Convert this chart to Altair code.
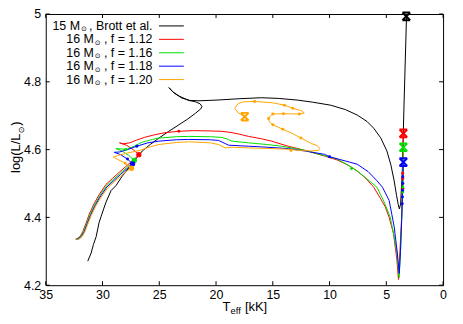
import altair as alt
import pandas as pd

# ---------------- data ----------------
series_names = ["15 Msun, Brott et al.", "16 Msun, f = 1.12", "16 Msun, f = 1.16",
                "16 Msun, f = 1.18", "16 Msun, f = 1.20"]
series_colors = ["#000000", "#ff0000", "#00e000", "#0000ff", "#ffa500"]

brott_T = [31.3, 31.0, 30.8, 30.56, 30.3, 30.13, 29.9, 29.69, 29.25, 28.81, 28.3, 27.65, 27.0,
           26.49, 25.8, 25.03, 24.2, 23.28, 22.5, 21.82, 21.35, 21.24, 21.4, 21.8, 22.4, 23.2,
           23.8, 24.15, 23.7, 23.0, 22.3, 21.5, 20.0, 18.0, 16.0, 14.5, 12.8, 11.5, 9.9, 8.6,
           7.57, 6.7, 6.11, 5.5, 4.95, 4.6, 4.31, 4.1, 3.95, 3.85, 3.74, 3.6, 3.45, 3.22]
brott_L = [4.271, 4.295, 4.32, 4.343, 4.385, 4.402, 4.425, 4.445, 4.479, 4.494, 4.52, 4.547, 4.575,
           4.596, 4.615, 4.634, 4.653, 4.673, 4.69, 4.707, 4.72, 4.727, 4.735, 4.741, 4.745, 4.757,
           4.77, 4.783, 4.767, 4.752, 4.745, 4.744, 4.746, 4.75, 4.753, 4.751, 4.746, 4.74, 4.731,
           4.718, 4.702, 4.683, 4.663, 4.635, 4.596, 4.555, 4.508, 4.465, 4.438, 4.425, 4.44,
           4.53, 4.72, 4.993]

red_T = [32.38, 32.2, 31.95, 31.74, 31.45, 31.16, 30.75, 30.28, 29.7, 29.12, 28.5, 27.95, 27.4,
         27.0, 26.8, 27.3, 27.9, 28.5, 28.2, 27.6, 27.0, 26.3, 25.5, 24.5, 23.28, 22.0, 20.5,
         19.49, 18.6, 18.0, 17.15, 16.0, 15.11, 13.65, 12.19, 10.44, 9.28, 8.3, 7.57, 6.8, 6.11,
         5.5, 5.09, 4.75, 4.37, 4.2, 4.07, 3.93, 3.8, 3.65, 3.55, 3.5]
red_L = [4.336, 4.338, 4.345, 4.358, 4.383, 4.41, 4.44, 4.468, 4.497, 4.515, 4.534, 4.55, 4.566,
         4.578, 4.585, 4.6, 4.613, 4.62, 4.617, 4.62, 4.628, 4.636, 4.643, 4.65, 4.654, 4.656,
         4.655, 4.654, 4.65, 4.646, 4.639, 4.632, 4.625, 4.61, 4.598, 4.581, 4.569, 4.553, 4.537,
         4.515, 4.489, 4.455, 4.431, 4.4, 4.353, 4.31, 4.275, 4.217, 4.3, 4.4, 4.53, 4.648]

green_T = [32.33, 32.15, 31.9, 31.68, 31.4, 31.1, 30.7, 30.22, 29.65, 29.07, 28.45, 27.9, 27.45,
           27.2, 27.7, 28.3, 28.82, 28.3, 27.94, 27.2, 26.5, 25.6, 25.03, 23.5, 22.4, 20.5, 19.49,
           18.9, 18.6, 17.15, 15.5, 14.24, 13.0, 12.19, 10.44, 9.3, 8.06, 7.3, 6.5, 5.82, 5.2,
           4.66, 4.35, 4.07, 3.87, 3.75, 3.64, 3.55, 3.5]
green_L = [4.336, 4.338, 4.345, 4.358, 4.382, 4.408, 4.437, 4.465, 4.493, 4.511, 4.53, 4.546, 4.56,
           4.568, 4.583, 4.596, 4.603, 4.602, 4.6, 4.61, 4.622, 4.63, 4.634, 4.638, 4.639, 4.638,
           4.636, 4.63, 4.625, 4.62, 4.615, 4.61, 4.603, 4.598, 4.582, 4.572, 4.548, 4.53, 4.508,
           4.489, 4.446, 4.401, 4.35, 4.295, 4.222, 4.3, 4.4, 4.5, 4.607]

blue_T = [32.28, 32.1, 31.85, 31.62, 31.35, 31.05, 30.65, 30.17, 29.6, 29.02, 28.4, 27.85, 27.5,
          27.35, 27.8, 28.4, 28.96, 28.5, 27.8, 26.98, 26.0, 25.03, 23.5, 22.4, 20.5, 19.78, 19.2,
          18.9, 17.15, 15.5, 13.65, 12.0, 10.44, 10.0, 9.0, 7.57, 6.6, 5.82, 5.34, 4.75, 4.31,
          4.03, 3.86, 3.75, 3.64, 3.55, 3.5]
blue_L = [4.335, 4.337, 4.344, 4.357, 4.381, 4.406, 4.435, 4.463, 4.49, 4.508, 4.527, 4.543, 4.555,
          4.558, 4.572, 4.585, 4.592, 4.593, 4.6, 4.61, 4.62, 4.625, 4.629, 4.63, 4.629, 4.627,
          4.618, 4.613, 4.61, 4.607, 4.603, 4.595, 4.586, 4.579, 4.57, 4.557, 4.535, 4.508, 4.489,
          4.45, 4.373, 4.295, 4.235, 4.3, 4.4, 4.5, 4.563]

orange_T = [32.23, 32.05, 31.8, 31.57, 31.3, 31.0, 30.6, 30.12, 29.55, 28.97, 28.35, 27.8, 27.45,
            28.0, 28.6, 29.05, 28.6, 27.8, 26.78, 25.9, 25.03, 23.5, 22.4, 20.5, 19.78, 19.2,
            18.6, 17.15, 15.0, 13.65, 12.5, 11.6, 11.0, 10.83, 11.1, 11.6, 12.52, 13.3, 14.12,
            14.99, 15.3, 15.37, 15.2, 14.99, 14.06, 12.66, 12.23, 12.5, 13.25, 13.97, 15.0, 16.6,
            17.6, 18.05, 18.34, 18.1, 17.47]
orange_L = [4.334, 4.336, 4.343, 4.356, 4.38, 4.405, 4.433, 4.46, 4.487, 4.505, 4.523, 4.538, 4.545,
            4.56, 4.57, 4.578, 4.583, 4.59, 4.597, 4.607, 4.615, 4.621, 4.623, 4.62, 4.615, 4.605,
            4.607, 4.605, 4.603, 4.601, 4.597, 4.596, 4.598, 4.603, 4.612, 4.618, 4.634, 4.648,
            4.66, 4.673, 4.682, 4.692, 4.7, 4.705, 4.706, 4.705, 4.708, 4.715, 4.722, 4.731, 4.738,
            4.742, 4.741, 4.736, 4.722, 4.71, 4.697]

# end-of-track asterisks
end_series = [0, 1, 2, 3, 4]
end_T = [3.24, 3.5, 3.5, 3.5, 17.47]
end_L = [4.993, 4.648, 4.607, 4.563, 4.697]

# main-sequence turn-off blobs
to_series = [1, 2, 3, 4]
to_T = [26.8, 27.2, 27.35, 27.45]
to_L = [4.585, 4.568, 4.558, 4.545]

# small time-step dots
dot_series = [1, 1, 1, 1, 1, 2, 2, 2, 2, 2, 3, 3, 3, 3, 3, 3, 3, 3,
              4, 4, 4, 4, 4, 4, 4, 4, 4, 4, 4, 4]
dot_T = [23.28, 3.56, 3.55, 3.55, 3.54, 27.94, 8.06, 3.56, 3.55, 3.55, 26.98, 27.8, 10.0, 3.6, 3.58,
         3.57, 3.56, 3.55, 28.0, 13.4, 12.52, 14.12, 14.99, 15.37, 14.99, 14.06, 12.66, 13.25,
         13.97, 16.6]
dot_L = [4.654, 4.53, 4.515, 4.5, 4.485, 4.6, 4.544, 4.5, 4.49, 4.475, 4.61, 4.572, 4.579, 4.44,
         4.46, 4.48, 4.5, 4.52, 4.56, 4.597, 4.634, 4.66, 4.673, 4.692, 4.705, 4.706, 4.705, 4.722,
         4.731, 4.742]

x_ticks = [35, 30, 25, 20, 15, 10, 5, 0]
y_ticks = [4.2, 4.4, 4.6, 4.8, 5.0]

legend_prefix = ["15 M", "16 M", "16 M", "16 M", "16 M"]
legend_suffix = [", Brott et al.", ", f = 1.12", ", f = 1.16", ", f = 1.18", ", f = 1.20"]

# ---------------- build tables ----------------
tracks = [(brott_T, brott_L), (red_T, red_L), (green_T, green_L), (blue_T, blue_L),
          (orange_T, orange_L)]
rows = []
for s, (Ts, Ls) in enumerate(tracks):
    for i, (t, l) in enumerate(zip(Ts, Ls)):
        rows.append({"series": series_names[s], "T": t, "L": l, "idx": i})
df = pd.DataFrame(rows)

df_end = pd.DataFrame({"series": [series_names[i] for i in end_series], "T": end_T, "L": end_L})
df_to = pd.DataFrame({"series": [series_names[i] for i in to_series], "T": to_T, "L": to_L})
df_dot = pd.DataFrame({"series": [series_names[i] for i in dot_series], "T": dot_T, "L": dot_L})

FONT = "Liberation Sans"
W, H = 400, 273

xscale = alt.Scale(domain=[0, 35], reverse=True, nice=False, zero=False)
yscale = alt.Scale(domain=[4.2, 5.0], nice=False, zero=False)
cscale = alt.Scale(domain=series_names, range=series_colors)

xaxis = alt.Axis(values=x_ticks, format="d", tickSize=0, domain=False, grid=False, title=None,
                 labelFont=FONT, labelFontSize=12.5, labelColor="black", labelPadding=3,
                 labelFlush=False, labelOverlap=False)
yaxis = alt.Axis(values=y_ticks, format="~g", tickSize=0, domain=False, grid=False, title=None,
                 labelFont=FONT, labelFontSize=12.5, labelColor="black", labelPadding=5,
                 labelFlush=False, labelOverlap=False)

X = alt.X("T:Q", scale=xscale, axis=xaxis)
Y = alt.Y("L:Q", scale=yscale, axis=yaxis)
C = alt.Color("series:N", scale=cscale, legend=None)

lines = alt.Chart(df).mark_line(strokeWidth=1, clip=True).encode(
    x=X, y=Y, color=C, order="idx:Q")

ast_path = "M-1,-1L1,1M-1,1L1,-1M-1,-1L1,-1M-1,1L1,1"
ends = alt.Chart(df_end).mark_point(shape=ast_path, size=60, strokeWidth=2, filled=False,
                                    opacity=1).encode(x=X, y=Y, color=C)
turnoffs = alt.Chart(df_to).mark_point(shape="circle", size=28, filled=True, opacity=1).encode(
    x=X, y=Y, color=C)
dots = alt.Chart(df_dot).mark_point(shape="circle", size=9, filled=True, opacity=1).encode(
    x=X, y=Y, color=C)

# inward ticks (gnuplot style) on all four sides
xt = pd.DataFrame({"T": x_ticks})
yt = pd.DataFrame({"L": y_ticks})
tick_b = alt.Chart(xt).mark_rule(color="black", strokeWidth=1).encode(
    x=X, y=alt.value(H), y2=alt.value(H - 4))
tick_t = alt.Chart(xt).mark_rule(color="black", strokeWidth=1).encode(
    x=X, y=alt.value(0), y2=alt.value(4))
tick_l = alt.Chart(yt).mark_rule(color="black", strokeWidth=1).encode(
    y=Y, x=alt.value(0), x2=alt.value(4))
tick_r = alt.Chart(yt).mark_rule(color="black", strokeWidth=1).encode(
    y=Y, x=alt.value(W), x2=alt.value(W - 4))

one = pd.DataFrame({"a": [0]})


def txt(s, x, y, size=12.5, align="left", baseline="alphabetic", angle=0, font=FONT):
    return alt.Chart(one).mark_text(text=s, align=align, baseline=baseline, angle=angle,
                                    font=font, fontSize=size, color="black").encode(
        x=alt.value(x), y=alt.value(y))


layers = [lines, dots, turnoffs, ends, tick_b, tick_t, tick_l, tick_r]

# legend (labels right, line samples on the right side)
xr = 107.5
suffix_w = [66.0, 52.0, 52.0, 52.0, 52.0]
for i in range(5):
    ry = 12 + 13.5 * i
    layers.append(txt(legend_suffix[i], xr, ry, align="right", baseline="middle"))
    layers.append(txt("\u2299", xr - suffix_w[i] - 3.2, ry + 3.5, size=7, align="center",
                      baseline="middle", font="DejaVu Sans"))
    layers.append(txt(legend_prefix[i], xr - suffix_w[i] - 7, ry, align="right",
                      baseline="middle"))
    layers.append(alt.Chart(one).mark_rule(color=series_colors[i], strokeWidth=1).encode(
        x=alt.value(114), x2=alt.value(139), y=alt.value(ry)))

# axis titles with subscripts
layers.append(txt("T", 178, 298.5, size=13))
layers.append(txt("eff", 186, 302.5, size=9.5))
layers.append(txt("[kK]", 200.5, 298.5, size=13))
layers.append(txt("log(L/L", -26, 160, size=13, angle=270))
layers.append(txt("\u2299", -22, 120, size=8, angle=270, font="DejaVu Sans"))
layers.append(txt(")", -26, 112.5, size=13, angle=270))

chart = alt.layer(*layers).properties(
    width=W, height=H,
    autosize=alt.AutoSizeParams(type="none"),
    padding={"left": 38, "top": 5, "right": 12, "bottom": 36},
    background="white",
).configure_view(stroke="black", strokeWidth=1)

chart.save("out.html", embed_options={"renderer": "svg", "actions": False})
